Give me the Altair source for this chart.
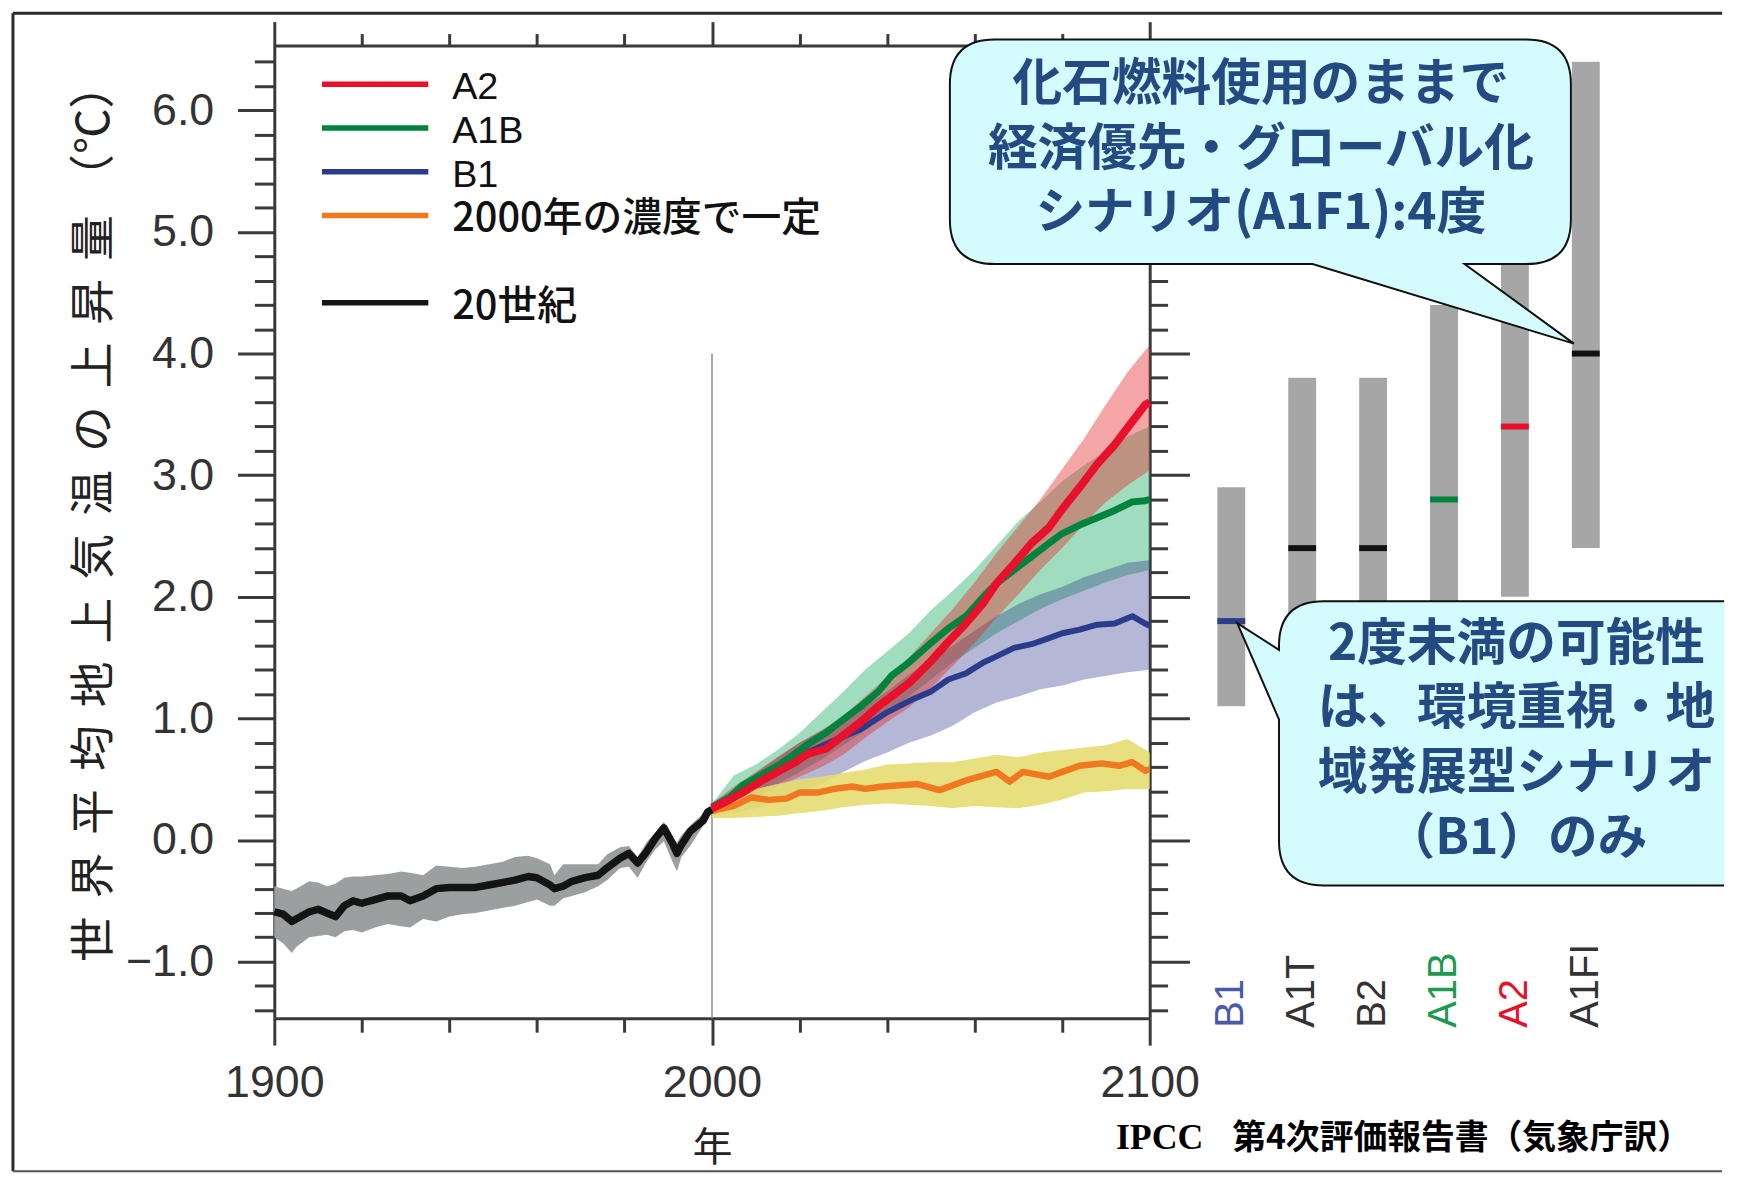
import altair as alt
import pandas as pd

# ---------------- data ----------------
HIST_YEARS = [1900, 1902, 1904, 1905, 1908, 1910, 1912, 1914, 1916, 1918,
              1920, 1923, 1926, 1929, 1931, 1934, 1937, 1940, 1943, 1946,
              1949, 1952, 1955, 1958, 1960, 1963, 1964, 1966, 1968, 1971,
              1974, 1976, 1979, 1981, 1983, 1985, 1987, 1989, 1991, 1992,
              1993, 1995, 1998, 1999, 2000]
HIST_MEAN = [-0.59, -0.61, -0.67, -0.65, -0.59, -0.57, -0.60, -0.63, -0.54, -0.50,
             -0.52, -0.49, -0.46, -0.46, -0.50, -0.46, -0.40, -0.39, -0.39, -0.39,
             -0.37, -0.35, -0.33, -0.30, -0.31, -0.37, -0.40, -0.38, -0.34, -0.31,
             -0.29, -0.23, -0.15, -0.11, -0.19, -0.10, 0.01, 0.10, -0.03, -0.11,
             -0.04, 0.07, 0.16, 0.23, 0.25]
HIST_HI = [-0.38, -0.40, -0.42, -0.40, -0.34, -0.35, -0.38, -0.36, -0.31, -0.30,
           -0.30, -0.29, -0.28, -0.26, -0.27, -0.29, -0.21, -0.22, -0.23, -0.22,
           -0.20, -0.18, -0.14, -0.13, -0.15, -0.20, -0.29, -0.20, -0.20, -0.20,
           -0.20, -0.12, -0.06, -0.05, -0.14, -0.02, 0.06, 0.15, 0.02, -0.02,
           0.04, 0.12, 0.22, 0.26, 0.28]
HIST_LO = [-0.80, -0.85, -0.93, -0.88, -0.80, -0.79, -0.78, -0.80, -0.75, -0.74,
           -0.76, -0.72, -0.69, -0.71, -0.72, -0.65, -0.67, -0.63, -0.61, -0.60,
           -0.58, -0.56, -0.54, -0.51, -0.49, -0.54, -0.54, -0.48, -0.46, -0.43,
           -0.38, -0.33, -0.23, -0.22, -0.31, -0.18, -0.08, -0.01, -0.18, -0.26,
           -0.14, -0.05, 0.12, 0.19, 0.22]

BAND_YEARS = [2000, 2005, 2010, 2015, 2020, 2025, 2030, 2035, 2040, 2045, 2050,
              2055, 2060, 2065, 2070, 2075, 2080, 2085, 2090, 2095, 2100]
A2_LO = [0.20, 0.27, 0.35, 0.44, 0.52, 0.60, 0.70, 0.84, 0.97, 1.09, 1.25,
         1.43, 1.62, 1.83, 2.02, 2.22, 2.40, 2.60, 2.78, 2.92, 3.04]
A2_HI = [0.30, 0.44, 0.56, 0.68, 0.80, 0.90, 1.02, 1.18, 1.34, 1.50, 1.70,
         1.90, 2.12, 2.36, 2.58, 2.80, 3.05, 3.30, 3.58, 3.85, 4.07]
A1B_LO = [0.20, 0.28, 0.38, 0.46, 0.56, 0.66, 0.78, 0.90, 1.04, 1.18, 1.32,
          1.46, 1.58, 1.70, 1.80, 1.90, 1.98, 2.05, 2.12, 2.18, 2.22]
A1B_HI = [0.30, 0.53, 0.62, 0.74, 0.88, 1.05, 1.22, 1.40, 1.55, 1.70, 1.89,
          2.05, 2.22, 2.42, 2.62, 2.78, 2.95, 3.08, 3.20, 3.32, 3.40]
B1_LO = [0.20, 0.22, 0.26, 0.32, 0.38, 0.46, 0.56, 0.65, 0.72, 0.80, 0.86,
         0.94, 1.05, 1.13, 1.18, 1.24, 1.27, 1.32, 1.35, 1.38, 1.40]
B1_HI = [0.30, 0.42, 0.55, 0.68, 0.80, 0.90, 1.00, 1.10, 1.22, 1.36, 1.48,
         1.60, 1.72, 1.84, 1.94, 2.02, 2.08, 2.16, 2.22, 2.28, 2.30]
CONST_LO = [0.18, 0.18, 0.19, 0.20, 0.22, 0.24, 0.27, 0.29, 0.30, 0.29, 0.28,
            0.26, 0.28, 0.27, 0.26, 0.29, 0.33, 0.39, 0.40, 0.42, 0.42]
CONST_HI = [0.28, 0.36, 0.42, 0.46, 0.50, 0.52, 0.55, 0.58, 0.62, 0.63, 0.64,
            0.64, 0.67, 0.70, 0.68, 0.72, 0.74, 0.76, 0.78, 0.83, 0.72]

A2_YEARS = [2000, 2004, 2007, 2011, 2015, 2019, 2022, 2026, 2030, 2034, 2038, 2041, 2045, 2050,
            2054, 2058, 2062, 2065, 2069, 2073, 2077, 2080, 2084, 2088, 2092, 2096, 2099, 2100]
A2_MEAN = [0.26, 0.33, 0.39, 0.48, 0.56, 0.64, 0.71, 0.75, 0.86, 0.97, 1.10, 1.18, 1.29, 1.47,
           1.63, 1.78, 1.95, 2.11, 2.27, 2.44, 2.57, 2.72, 2.90, 3.09, 3.25, 3.44, 3.58, 3.60]
A1B_YEARS = A2_YEARS
A1B_MEAN = [0.27, 0.35, 0.45, 0.53, 0.61, 0.71, 0.79, 0.88, 0.99, 1.10, 1.22, 1.35, 1.46, 1.62,
            1.74, 1.84, 2.00, 2.11, 2.22, 2.33, 2.44, 2.52, 2.59, 2.65, 2.71, 2.78, 2.79, 2.80]
B1_YEARS = [2000, 2005, 2013, 2020, 2028, 2034, 2040, 2046, 2050, 2054, 2058, 2062, 2065,
            2069, 2073, 2077, 2080, 2084, 2088, 2092, 2096, 2099, 2100]
B1_MEAN = [0.26, 0.35, 0.53, 0.69, 0.82, 0.91, 1.05, 1.16, 1.22, 1.32, 1.37, 1.46, 1.51,
           1.58, 1.61, 1.66, 1.70, 1.73, 1.77, 1.78, 1.84, 1.78, 1.76]
CONST_YEARS = [2000, 2005, 2009, 2013, 2017, 2020, 2024, 2028, 2032, 2035, 2039, 2043, 2047,
               2052, 2058, 2065, 2068, 2071, 2077, 2080, 2084, 2089, 2093, 2096, 2099, 2100]
CONST_MEAN = [0.24, 0.28, 0.35, 0.33, 0.34, 0.39, 0.39, 0.42, 0.44, 0.42, 0.44, 0.45, 0.46,
              0.41, 0.49, 0.56, 0.48, 0.56, 0.52, 0.56, 0.61, 0.63, 0.61, 0.64, 0.57, 0.58]

VLINE_YEAR = [2000]
VLINE_TOP = [4.0]

SCENARIOS = ["B1", "A1T", "B2", "A1B", "A2", "A1FI"]
RANGE_LO = [1.1, 1.4, 1.4, 1.7, 2.0, 2.4]
RANGE_HI = [2.9, 3.8, 3.8, 4.4, 5.4, 6.4]
RANGE_BEST = [1.8, 2.4, 2.4, 2.8, 3.4, 4.0]

LEG_LABELS = ["A2", "A1B", "B1", "2000年の濃度で一定", "20世紀"]
LEG_ROWS = [0, 1, 2, 3, 5]

X_TICKS = [1900, 1920, 1940, 1960, 1980, 2000, 2020, 2040, 2060, 2080, 2100]
Y_TICKS = [-1.4, -1.2, -1.0, -0.8, -0.6, -0.4, -0.2, 0.0, 0.2, 0.4, 0.6, 0.8, 1.0,
           1.2, 1.4, 1.6, 1.8, 2.0, 2.2, 2.4, 2.6, 2.8, 3.0, 3.2, 3.4, 3.6, 3.8, 4.0,
           4.2, 4.4, 4.6, 4.8, 5.0, 5.2, 5.4, 5.6, 5.8, 6.0, 6.2, 6.4]

Y_TITLE_CHARS = "世界平均地上気温の上昇量"
Y_TITLE_UNIT = "（℃）"
X_TITLE = "年"
CALLOUT1_LINES = ["化石燃料使用のままで", "経済優先・グローバル化", "シナリオ(A1F1):4度"]
CALLOUT2_LINES = ["2度未満の可能性", "は、環境重視・地", "域発展型シナリオ", "（B1）のみ"]
CALLOUT1_AT = "A1FI"
CALLOUT2_AT = "B1"
FOOT_LATIN = "IPCC"
FOOT_JP = "第4次評価報告書（気象庁訳）"

# ---------------- styles ----------------
Y_MIN, Y_MAX = -1.466, 6.533
PLOT_W, PLOT_H = 881, 979
BAR_PANEL_W = 509

CJK = "Noto Sans CJK JP"
NUM_FONT = "Liberation Sans Narrow, Arial Narrow, Liberation Sans, Arial"
LAT_FONT = "Liberation Sans, Arial"
AX = "#3a3a3a"

RED, GREEN, BLUE, ORANGE, BLACK = "#e8102a", "#00843d", "#2c3c8c", "#f07820", "#141414"
LEG_COLORS = [RED, GREEN, BLUE, ORANGE, BLACK]
SCEN_MARK_COLORS = [BLUE, "#111111", "#111111", GREEN, RED, "#111111"]
SCEN_LABEL_COLORS = ["#4a5aa8", "#333333", "#333333", "#1e9a50", "#e8102a", "#333333"]
CALLOUT_FILL = "#d4fbfd"
CALLOUT_TEXT = "#234b82"

CALLOUT1_PATH = ("M -595 -316 L -60 -316 Q -15 -316 -15 -271 L -15 -135 Q -15 -90 -60 -90 "
                 "L -122 -90 L -12 -10 L -275 -90 L -595 -90 Q -640 -90 -640 -135 "
                 "L -640 -271 Q -640 -316 -595 -316 Z")
CALLOUT2_PATH = ("M 496 -20 L 93 -20 Q 48 -20 48 25 L 48 29 L 6 2 L 48 99 L 48 221 "
                 "Q 48 266 93 266 L 496 266")

x_scale = alt.Scale(domain=[1900, 2100], nice=False, zero=False)
y_scale = alt.Scale(domain=[Y_MIN, Y_MAX], nice=False, zero=False)

X_MAJOR = "datum.value % 100 === 0"
Y_MAJOR = "abs(datum.value - round(datum.value)) < 0.001"

common = dict(domainColor=AX, domainWidth=3, tickColor=AX, tickWidth=3, grid=False,
              labelFont=NUM_FONT, labelFontSize=45, labelColor="#333333",
              labelOverlap=False, labelBound=False, labelFlush=False)

axis_bottom = alt.Axis(values=X_TICKS, format="d", orient="bottom",
                       labelExpr=f"{X_MAJOR} ? datum.label : ''",
                       tickSize={"condition": {"test": X_MAJOR, "value": 27}, "value": 14},
                       labelPadding=16, title=X_TITLE, titleFont=CJK, titleFontSize=40,
                       titleFontWeight="normal", titleColor="#222222", titleY=131,
                       titleBaseline="middle", **common)
axis_top = alt.Axis(values=X_TICKS, orient="top", labels=False, title=None,
                    tickSize={"condition": {"test": X_MAJOR, "value": 24}, "value": 12},
                    **common)
y_title = "\u2004\u200a".join(list(Y_TITLE_CHARS)) + "\u2004" + Y_TITLE_UNIT
axis_left = alt.Axis(values=Y_TICKS, format=".1f", orient="left",
                     labelExpr=f"{Y_MAJOR} ? datum.label : ''",
                     tickSize={"condition": {"test": Y_MAJOR, "value": 37}, "value": 20},
                     labelPadding=24, title=y_title, titleFont=CJK, titleFontSize=46,
                     titleFontWeight="normal", titleColor="#222222", titleX=-181,
                     titleY=PLOT_H / 2 - 20, titleAngle=270, titleAlign="center",
                     titleBaseline="middle", **common)
axis_right = alt.Axis(values=Y_TICKS, orient="right", labels=False, title=None,
                      tickSize={"condition": {"test": Y_MAJOR, "value": 40}, "value": 18},
                      **common)


def band(years, lo, hi):
    return pd.DataFrame({"year": years, "lo": lo, "hi": hi})


def series(years, v):
    return pd.DataFrame({"year": years, "v": v})


XN = alt.X("year:Q", scale=x_scale, axis=None)


def band_layer(df, color, opacity):
    return alt.Chart(df).mark_area(color=color, opacity=opacity, interpolate="linear").encode(
        x=XN, y=alt.Y("lo:Q", scale=y_scale, axis=None), y2="hi:Q")


def line_layer(df, color, width):
    return alt.Chart(df).mark_line(color=color, strokeWidth=width, strokeJoin="round").encode(
        x=XN, y=alt.Y("v:Q", scale=y_scale, axis=None))


vline = alt.Chart(pd.DataFrame({"year": VLINE_YEAR, "lo": [Y_MIN], "hi": VLINE_TOP})).mark_rule(
    color="#8a8a8a", strokeWidth=1.5).encode(
    x=alt.X("year:Q", scale=x_scale, axis=axis_top),
    y=alt.Y("lo:Q", scale=y_scale, axis=axis_right), y2="hi:Q")

hist_band = alt.Chart(band(HIST_YEARS, HIST_LO, HIST_HI)).mark_area(color="#9c9fa0").encode(
    x=alt.X("year:Q", scale=x_scale, axis=axis_bottom),
    y=alt.Y("lo:Q", scale=y_scale, axis=axis_left), y2="hi:Q")

leg_df = pd.DataFrame({"label": LEG_LABELS, "row": LEG_ROWS})
leg_base = alt.Chart(leg_df).transform_calculate(py="39 + datum.row * 44")
leg_lines = leg_base.mark_rule(strokeWidth=5.5).encode(
    x=alt.value(48), x2=alt.value(155), y=alt.Y("py:Q", scale=None),
    color=alt.Color("label:N", scale=alt.Scale(domain=LEG_LABELS, range=LEG_COLORS), legend=None))
# Latin-only entries in a compact sans, Japanese entries in the CJK gothic
leg_text_lat = leg_base.transform_filter("datum.row < 3").mark_text(
    align="left", baseline="middle", font=LAT_FONT, fontSize=38, color="#111111", dy=4).encode(
    x=alt.value(179), y=alt.Y("py:Q", scale=None), text="label:N")
leg_text_jp = leg_base.transform_filter("datum.row >= 3").mark_text(
    align="left", baseline="middle", font=CJK, fontSize=40, fontWeight=500,
    color="#111111", dy=4).encode(
    x=alt.value(179), y=alt.Y("py:Q", scale=None), text="label:N")

one = pd.DataFrame({"k": [0]})
FL, FR, FT, FB = -263, 1457, -32.5, 1133
frame = [
    alt.Chart(one).mark_rule(color="#2a2a2a", strokeWidth=3).encode(
        x=alt.value(FL), x2=alt.value(FR), y=alt.value(FT)),
    alt.Chart(one).mark_rule(color="#2a2a2a", strokeWidth=3).encode(
        x=alt.value(FL), y=alt.value(FT), y2=alt.value(FB)),
    alt.Chart(one).mark_rule(color="#555555", strokeWidth=2).encode(
        x=alt.value(FL), x2=alt.value(FR), y=alt.value(FB)),
]
foot = [
    alt.Chart(one).mark_text(text=FOOT_LATIN, align="left", baseline="alphabetic",
                             font="Liberation Serif, Times New Roman", fontWeight="bold",
                             fontSize=36, color="#000000").encode(
        x=alt.value(847), y=alt.value(1111)),
    alt.Chart(one).mark_text(text=FOOT_JP, align="left", baseline="alphabetic", font=CJK,
                             fontWeight="bold", fontSize=34, color="#000000").encode(
        x=alt.value(964), y=alt.value(1111)),
]

main = alt.layer(
    vline,
    hist_band,
    band_layer(band(BAND_YEARS, A1B_LO, A1B_HI), "#2cb26f", 0.45),
    band_layer(band(BAND_YEARS, B1_LO, B1_HI), "#283088", 0.35),
    band_layer(band(BAND_YEARS, A2_LO, A2_HI), "#e42b2b", 0.42),
    band_layer(band(BAND_YEARS, CONST_LO, CONST_HI), "#e6dc70", 0.9),
    line_layer(series(CONST_YEARS, CONST_MEAN), ORANGE, 6.5),
    line_layer(series(B1_YEARS, B1_MEAN), BLUE, 6),
    line_layer(series(A1B_YEARS, A1B_MEAN), GREEN, 7),
    line_layer(series(A2_YEARS, A2_MEAN), RED, 8),
    line_layer(series(HIST_YEARS, HIST_MEAN), BLACK, 7.5),
    leg_lines, leg_text_lat, leg_text_jp, *frame, *foot,
).resolve_axis(x="independent", y="independent").properties(width=PLOT_W, height=PLOT_H)

# ---------------- right panel: likely ranges at 2090-2099 ----------------
bars_df = pd.DataFrame({"scenario": SCENARIOS, "lo": RANGE_LO, "hi": RANGE_HI, "best": RANGE_BEST})
xs = alt.Scale(domain=SCENARIOS, paddingInner=0.607, paddingOuter=0.87)
ys = alt.Scale(domain=[Y_MIN, Y_MAX], nice=False, zero=False)
label_color = {"condition": [{"test": f"datum.value === '{s}'", "value": c}
                             for s, c in zip(SCENARIOS, SCEN_LABEL_COLORS)],
               "value": "#333333"}
axis_scen = alt.Axis(orient="bottom", title=None, domain=False, ticks=False, tickSize=0,
                     labelAngle=270, labelAlign="left", labelBaseline="middle",
                     labelPadding=9, labelFont=LAT_FONT, labelFontSize=40,
                     labelColor=label_color, grid=False, labelOverlap=False)
XS = alt.X("scenario:N", scale=xs, axis=axis_scen, sort=SCENARIOS)
YB = alt.Y("best:Q", scale=ys, axis=None)

bars = alt.Chart(bars_df).mark_bar(color="#a6a6a6").encode(
    x=XS, y=alt.Y("lo:Q", scale=ys, axis=None), y2="hi:Q")
means = alt.Chart(bars_df).mark_tick(thickness=6, size=28, opacity=1).encode(
    x=XS, y=YB,
    color=alt.Color("scenario:N", scale=alt.Scale(domain=SCENARIOS, range=SCEN_MARK_COLORS),
                    legend=None))

c1 = alt.Chart(bars_df).transform_filter(f"datum.scenario === '{CALLOUT1_AT}'")
c2 = alt.Chart(bars_df).transform_filter(f"datum.scenario === '{CALLOUT2_AT}'")
callout1 = c1.mark_point(shape=CALLOUT1_PATH, size=4, filled=True, fill=CALLOUT_FILL,
                         stroke="#111111", strokeWidth=2, opacity=1).encode(x=XS, y=YB)
callout1_txt = c1.mark_text(text=CALLOUT1_LINES, dx=-327, dy=-270, lineHeight=65, font=CJK,
                            fontSize=50, fontWeight="bold", color=CALLOUT_TEXT,
                            align="center", baseline="middle").encode(x=XS, y=YB)
callout2 = c2.mark_point(shape=CALLOUT2_PATH, size=4, filled=True, fill=CALLOUT_FILL,
                         stroke="#111111", strokeWidth=2, opacity=1).encode(x=XS, y=YB)
callout2_txt = c2.mark_text(text=CALLOUT2_LINES, dx=287, dy=24, lineHeight=65, font=CJK,
                            fontSize=50, fontWeight="bold", color=CALLOUT_TEXT,
                            align="center", baseline="middle").encode(x=XS, y=YB)

right = alt.layer(bars, means, callout1, callout1_txt, callout2, callout2_txt).properties(
    width=BAR_PANEL_W, height=PLOT_H)

chart = alt.hconcat(main, right, spacing=6, bounds="flush").resolve_scale(
    color="independent", x="independent", y="independent").properties(
    padding={"left": 3, "top": 0, "right": 0, "bottom": 0}).configure_view(stroke=None)

chart.save("out.html", embed_options={"renderer": "svg", "actions": False})
